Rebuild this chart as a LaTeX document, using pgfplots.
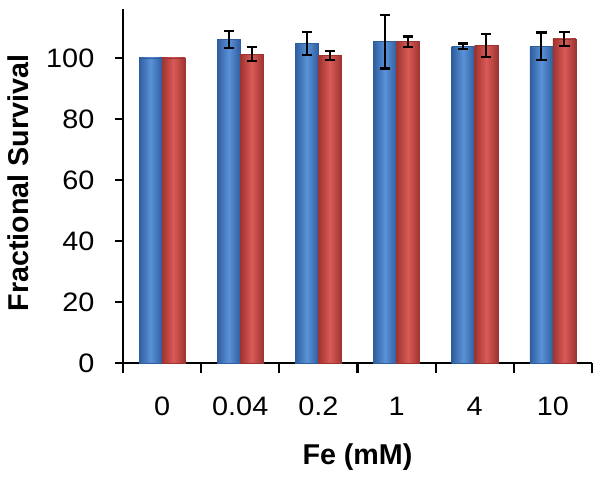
\documentclass[border=0pt]{standalone}
\usepackage{pgfplots}
\pgfplotsset{compat=1.18}
\usepackage{fontspec}
\setmainfont{Liberation Sans}
\newfontfamily\tickfont[FakeStretch=1.08]{Liberation Sans}
\definecolor{bdark}{HTML}{2F5E9E}
\definecolor{blight}{HTML}{5A92D8}
\definecolor{rdark}{HTML}{9E3431}
\definecolor{rlight}{HTML}{DA5A56}
\pgfplotsset{
  bluebar/.style={draw=bdark, line width=0.3pt, left color=bdark, right color=bdark, middle color=blight, bar shift=-8.625pt},
  redbar/.style={draw=rdark, line width=0.3pt, left color=rdark, right color=rdark, middle color=rlight, bar shift=8.625pt},
}
\newcommand\bbar[4]{\addplot[#1, error bars/.cd, y dir=both, y explicit] coordinates {(#2,#3) +- (0,#4)};}
\begin{document}
\begin{tikzpicture}
\useasboundingbox (-92.25pt,-87pt) rectangle (357.75pt,272.25pt);
\begin{axis}[
  at={(0,0)}, anchor=south west,
  scale only axis, width=351.75pt, height=265.5pt,
  axis lines=left, axis line style={-, line width=1.6pt},
  xmin=-0.5, xmax=5.5, ymin=0, ymax=116,
  ytick={0,20,40,60,80,100},
  xtick={0,1,2,3,4,5},
  xticklabels={0,0.04,0.2,1,4,10},
  major x tick style={draw=none},
  minor xtick={-0.5,0.5,1.5,2.5,3.5,4.5,5.5},
  minor tick length=7.5pt,
  major tick length=6pt,
  tick align=outside,
  every tick/.style={black, line width=1.6pt},
  /pgf/number format/assume math mode=true,
  tick label style={font=\tickfont\fontsize{20}{24}\selectfont, text=black},
  xticklabel style={yshift=-16pt},
  yticklabel style={xshift=-12pt},
  ybar=0pt, bar width=17.25pt,
  clip=false,
  xlabel={Fe (mM)}, ylabel={Fractional Survival},
  every axis x label/.style={at={(axis description cs:0.5,-0.265)}, anchor=center, font=\bfseries\fontsize{21.5}{25}\selectfont},
  every axis y label/.style={at={(axis description cs:-0.224,0.508)}, anchor=center, rotate=90, font=\bfseries\fontsize{21.5}{25}\selectfont},
  error bars/error bar style={line width=1.6pt, black},
  error bars/error mark options={rotate=90, mark size=3.9pt, line width=1.6pt, black},
]
\addplot[bluebar] coordinates {(0,100)};
\bbar{bluebar}{1}{106}{2.7}
\bbar{bluebar}{2}{104.7}{3.8}
\bbar{bluebar}{3}{105.3}{8.8}
\bbar{bluebar}{4}{103.8}{0.9}
\bbar{bluebar}{5}{103.8}{4.5}
\addplot[redbar] coordinates {(0,100)};
\bbar{redbar}{1}{101.2}{2.3}
\bbar{redbar}{2}{100.8}{1.5}
\bbar{redbar}{3}{105.3}{1.7}
\bbar{redbar}{4}{104.1}{3.8}
\bbar{redbar}{5}{106.2}{2.2}
\end{axis}
\end{tikzpicture}
\end{document}
